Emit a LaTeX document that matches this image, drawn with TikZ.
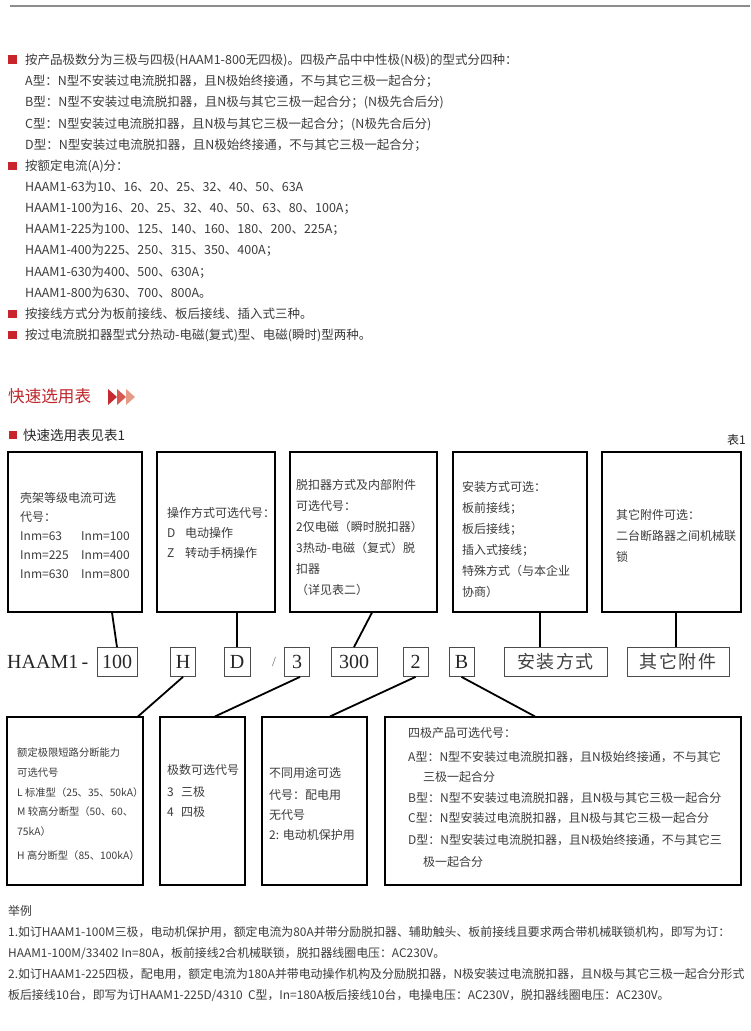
\documentclass[tikz,border=0pt]{standalone}
\usepackage{fontspec}
\setmainfont{Liberation Serif}
\newfontfamily\cjk{Noto Sans CJK SC}
\newfontfamily\cjkls[LetterSpace=8]{Noto Sans CJK SC}
\usetikzlibrary{calc}
\definecolor{txtgray}{HTML}{3C3C3C}
\definecolor{hred}{HTML}{BE262C}
\definecolor{bulred}{HTML}{C8242B}
\definecolor{arrA}{HTML}{C42A2F}
\definecolor{arrB}{HTML}{D65A50}
\definecolor{arrC}{HTML}{E69B86}
\begin{document}
\begin{tikzpicture}[x=1pt,y=-1pt,
  tl/.style={anchor=base west, inner sep=0pt, text=txtgray, font=\cjk\fontsize{12}{14}\selectfont},
  tlt/.style={tl, font=\cjk\fontsize{12.5}{14}\selectfont},
  tls/.style={tl, font=\cjk\fontsize{10.3}{12}\selectfont},
  tlx/.style={tl, font=\cjk\fontsize{11.9}{14}\selectfont},
  bul/.style={fill=bulred, minimum size=8.4pt, inner sep=0pt},
  frame/.style={draw=black, line width=1.1pt, inner sep=0pt},
  cbox/.style={draw=black!70, line width=0.8pt, inner sep=0pt, minimum height=29pt, font=\fontsize{20}{20}\selectfont, text=black!85},
  conn/.style={line width=1.8pt, black}]
\useasboundingbox (0,0) rectangle (750,1031);
\fill[white] (0,0) rectangle (750,1031);
% top rule
\draw[line width=1.8pt, black!45] (10,6) -- (750,6);

% ---------- top text block ----------
\node[bul] (b1) at (12.5,59.5) {};
\node[tlt] (t0) at (25,64.5) {按产品极数分为三极与四极(HAAM1-800无四极)。四极产品中中性极(N极)的型式分四种：};
\node[tlt] (t1) at (25,85.7) {A型：N型不安装过电流脱扣器，且N极始终接通，不与其它三极一起合分；};
\node[tlt] (t2) at (25,106.8) {B型：N型不安装过电流脱扣器，且N极与其它三极一起合分；(N极先合后分)};
\node[tlt] (t3) at (25,128) {C型：N型安装过电流脱扣器，且N极与其它三极一起合分；(N极先合后分)};
\node[tlt] (t4) at (25,149.1) {D型：N型安装过电流脱扣器，且N极始终接通，不与其它三极一起合分；};
\node[bul] (b2) at (12.5,165.8) {};
\node[tlt] (t5) at (25,170.3) {按额定电流(A)分：};
\node[tlt] (t6) at (25,191.4) {HAAM1-63为10、16、20、25、32、40、50、63A};
\node[tlt] (t7) at (25,212.6) {HAAM1-100为16、20、25、32、40、50、63、80、100A；};
\node[tlt] (t8) at (25,233.7) {HAAM1-225为100、125、140、160、180、200、225A；};
\node[tlt] (t9) at (25,254.9) {HAAM1-400为225、250、315、350、400A；};
\node[tlt] (t10) at (25,276) {HAAM1-630为400、500、630A；};
\node[tlt] (t11) at (25,297.2) {HAAM1-800为630、700、800A。};
\node[bul] (b3) at (12.5,313.8) {};
\node[tlt] (t12) at (25,318.3) {按接线方式分为板前接线、板后接线、插入式三种。};
\node[bul] (b4) at (12.5,335) {};
\node[tlt] (t13) at (25,339.5) {按过电流脱扣器型式分热动-电磁(复式)型、电磁(瞬时)型两种。};

% ---------- header ----------
\node[anchor=base west, inner sep=0pt, text=hred, font=\cjk\fontsize{16.6}{18}\selectfont] (hd) at (8,402.3) {快速选用表};
\fill[arrA] (108,389) -- (117,397) -- (108,405) -- cycle;
\fill[arrB] (117,389) -- (126,397) -- (117,405) -- cycle;
\fill[arrC] (126,389) -- (135,397) -- (126,405) -- cycle;
\node[bul] (b5) at (13,435) {};
\node[anchor=base west, inner sep=0pt, text=black!85, font=\cjk\fontsize{13.5}{15}\selectfont] (sub) at (23,440) {快速选用表见表1};
\node[anchor=base east, inner sep=0pt, text=black!85, font=\cjk\fontsize{12}{14}\selectfont] (tab1) at (746,444.5) {表1};

% ---------- top boxes ----------
\node[frame, minimum width=134pt, minimum height=160pt] (tb1) at (75,532) {};
\node[frame, minimum width=118pt, minimum height=160pt] (tb2) at (216,532) {};
\node[frame, minimum width=147pt, minimum height=160pt] (tb3) at (363.5,532) {};
\node[frame, minimum width=134pt, minimum height=160pt] (tb4) at (520,532) {};
\node[frame, minimum width=139pt, minimum height=160pt] (tb5) at (671.5,532) {};

\node[tl] (a1) at (20,502.5) {壳架等级电流可选};
\node[tl] (a2) at (20,521.5) {代号：};
\node[tl] (a3) at (20,540.5) {Inm=63};
\node[tl] (a4) at (81,540.5) {Inm=100};
\node[tl] (a5) at (20,559.5) {Inm=225};
\node[tl] (a6) at (81,559.5) {Inm=400};
\node[tl] (a7) at (20,578.5) {Inm=630};
\node[tl] (a8) at (81,578.5) {Inm=800};

\node[tl] (d1) at (167,517.5) {操作方式可选代号：};
\node[tl] (d2) at (167,537.5) {D};
\node[tl] (d3) at (185,537.5) {电动操作};
\node[tl] (d4) at (167,557.5) {Z};
\node[tl] (d5) at (185,557.5) {转动手柄操作};

\node[tl] (e1) at (296,489.5) {脱扣器方式及内部附件};
\node[tl] (e2) at (296,510.5) {可选代号：};
\node[tl] (e3) at (296,531.5) {2仅电磁（瞬时脱扣器）};
\node[tl] (e4) at (296,552.5) {3热动-电磁（复式）脱};
\node[tl] (e5) at (296,573.5) {扣器};
\node[tl] (e6) at (296,594.5) {（详见表二）};

\node[tl] (f1) at (462,491.5) {安装方式可选：};
\node[tl] (f2) at (462,512.5) {板前接线；};
\node[tl] (f3) at (462,533.5) {板后接线；};
\node[tl] (f4) at (462,554.5) {插入式接线；};
\node[tl] (f5) at (462,575.5) {特殊方式（与本企业};
\node[tl] (f6) at (462,596.5) {协商）};

\node[tl] (g1) at (616,519.5) {其它附件可选：};
\node[tl] (g2) at (616,540.5) {二台断路器之间机械联};
\node[tl] (g3) at (616,561.5) {锁};

% ---------- code row ----------
\node[anchor=base west, inner sep=0pt, font=\fontsize{20}{20}\selectfont, text=black!85] (hm) at (7,668.8) {HAAM1\,-};
\node[cbox, minimum width=40pt] (c100) at (117,662) {100};
\node[cbox, minimum width=25pt] (cH) at (183,662) {H};
\node[cbox, minimum width=26pt] (cD) at (237,662) {D};
\node[inner sep=0pt, font=\fontsize{14}{14}\selectfont, text=black!55] (sl) at (274,662) {/};
\node[cbox, minimum width=25pt] (c3) at (297,662) {3};
\node[cbox, minimum width=46pt] (c300) at (354,662) {300};
\node[cbox, minimum width=25pt] (c2) at (415.5,662) {2};
\node[cbox, minimum width=25pt] (cB) at (461.5,662) {B};
\node[cbox, minimum width=103pt, font=\cjkls\fontsize{18}{18}\selectfont, text=black!75] (cAZ) at (555.5,662) {安装方式\hspace{-1.2pt}};
\node[cbox, minimum width=102pt, font=\cjkls\fontsize{18}{18}\selectfont, text=black!75] (cQT) at (678,662) {其它附件\hspace{-1.2pt}};

% ---------- bottom boxes ----------
\node[frame, minimum width=136pt, minimum height=168pt] (bb1) at (75,801) {};
\node[frame, minimum width=85pt, minimum height=168pt] (bb2) at (202.5,801) {};
\node[frame, minimum width=105pt, minimum height=168pt] (bb3) at (314.5,801) {};
\node[frame, minimum width=356pt, minimum height=168pt] (bb4) at (563,801) {};

\node[tls] (h1) at (17,756) {额定极限短路分断能力};
\node[tls] (h2) at (17,776) {可选代号};
\node[tls] (h3) at (17,796) {L 标准型（25、35、50kA）};
\node[tls] (h4) at (17,815) {M 较高分断型（50、60、};
\node[tls] (h5) at (17,835) {75kA）};
\node[tls] (h6) at (17,859) {H 高分断型（85、100kA）};

\node[tl] (i1) at (167,774.5) {极数可选代号};
\node[tl] (i2) at (167,796.5) {3};
\node[tl] (i3) at (181,796.5) {三极};
\node[tl] (i4) at (167,816.5) {4};
\node[tl] (i5) at (181,816.5) {四极};

\node[tl] (j1) at (269,777.5) {不同用途可选};
\node[tl] (j2) at (269,799.5) {代号：配电用};
\node[tl] (j3) at (269,819.5) {无代号};
\node[tl] (j4) at (269,839.5) {2: 电动机保护用};

\node[tl] (k1) at (408,737.5) {四极产品可选代号：};
\node[tl] (k2) at (408,761.5) {A型：N型不安装过电流脱扣器，且N极始终接通，不与其它};
\node[tl] (k3) at (423,781.5) {三极一起合分};
\node[tl] (k4) at (408,802.5) {B型：N型不安装过电流脱扣器，且N极与其它三极一起合分};
\node[tl] (k5) at (408,822.5) {C型：N型安装过电流脱扣器，且N极与其它三极一起合分};
\node[tl] (k6) at (408,844.5) {D型：N型安装过电流脱扣器，且N极始终接通，不与其它三};
\node[tl] (k7) at (423,866.5) {极一起合分};

% ---------- connectors ----------
\draw[conn] ([xshift=37pt]tb1.south) -- (c100.north);
\draw[conn] ([xshift=21pt]tb2.south) -- (cD.north);
\draw[conn] ([xshift=8.5pt]tb3.south) -- (c300.north);
\draw[conn] ([xshift=20pt]tb4.south) -- ([xshift=-15.5pt]cAZ.north);
\draw[conn] ([xshift=4.5pt]tb5.south) -- ([xshift=-2pt]cQT.north);
\draw[conn] (cH.south) -- ([xshift=63pt]bb1.north);
\draw[conn] ([xshift=3pt]c3.south) -- ([xshift=12.5pt]bb2.north);
\draw[conn] (c2.south) -- ([xshift=15.5pt]bb3.north);
\draw[conn] (cB.south) -- ([xshift=-28pt]bb4.north);

% ---------- example ----------
\node[tlx] (x0) at (8,915.5) {举例};
\node[tlx] (x1) at (8,936.5) {1.如订HAAM1-100M三极，电动机保护用，额定电流为80A并带分励脱扣器、辅助触头、板前接线且要求两合带机械联锁机构，即写为订：};
\node[tlx] (x2) at (8,957.5) {HAAM1-100M/33402 In=80A，板前接线2合机械联锁，脱扣器线圈电压：AC230V。};
\node[tlx] (x3) at (8,978.5) {2.如订HAAM1-225四极，配电用，额定电流为180A并带电动操作机构及分励脱扣器，N极安装过电流脱扣器，且N极与其它三极一起合分形式};
\node[tlx] (x4) at (8,999.5) {板后接线10台，即写为订HAAM1-225D/4310\ \ C型，In=180A板后接线10台，电操电压：AC230V，脱扣器线圈电压：AC230V。};
\end{tikzpicture}
\end{document}
